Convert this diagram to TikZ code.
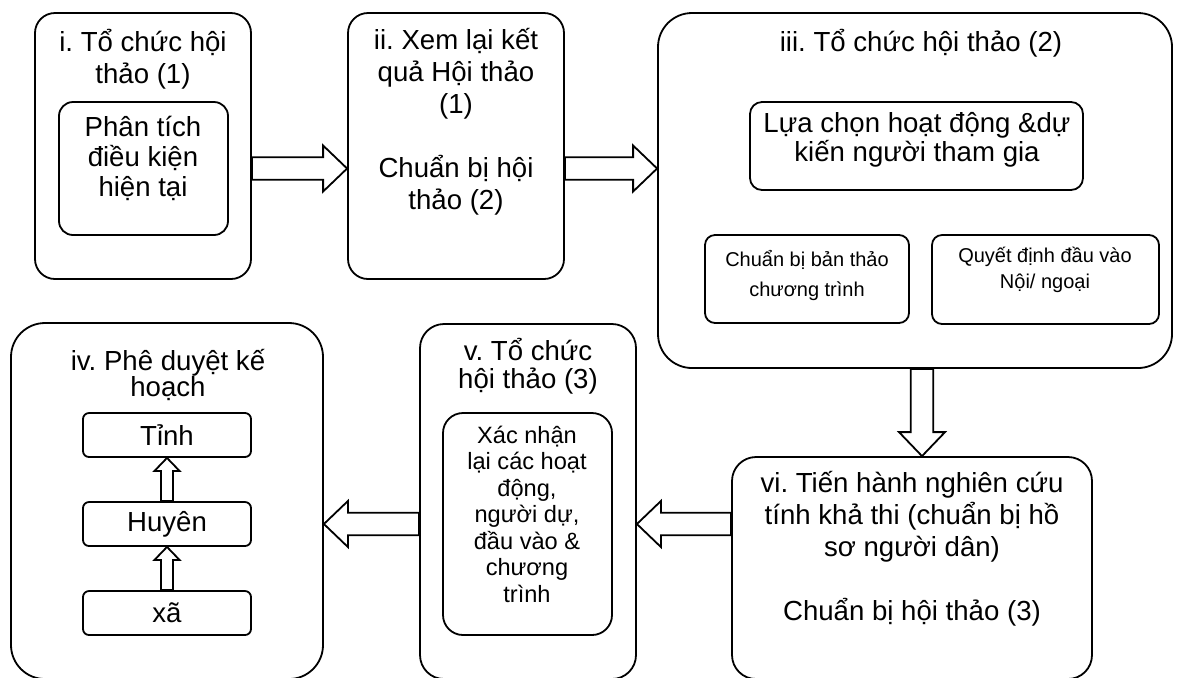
\documentclass[tikz,border=0pt]{standalone}
\usepackage{fontspec}
\setmainfont{Liberation Sans}
\usetikzlibrary{calc}
\frenchspacing

\begin{document}
\begin{tikzpicture}[x=0.5pt, y=-0.5pt,
	box/.style={draw, line width=0.9pt, rounded corners=#1, inner sep=0pt},
	box/.default=10pt,
	txt/.style={align=center, inner sep=0pt, font=\fontsize{13.8}{#1}\selectfont},
	txt/.default=16,
	stxt/.style={align=center, inner sep=0pt, font=\fontsize{10}{#1}\selectfont},
	fat/.style n args={3}{line width=0.9pt, to path={
		let \p1=($(\tikztotarget)!#3!(\tikztostart)$) in
		($(\tikztostart)!#1!90:(\tikztotarget)$)
		-- ($(\p1)!#1!90:(\tikztotarget)$)
		-- ($(\p1)!#2!90:(\tikztotarget)$)
		-- (\tikztotarget)
		-- ($(\p1)!#2!-90:(\tikztotarget)$)
		-- ($(\p1)!#1!-90:(\tikztotarget)$)
		-- ($(\tikztostart)!#1!-90:(\tikztotarget)$) -- cycle}},
	big/.style={fat={5.6pt}{11.5pt}{12pt}},
	small/.style={fat={3pt}{6.25pt}{6.5pt}}]
	\useasboundingbox (0,0) rectangle (1203,677);
	\clip (0,0) rectangle (1203,677);
	\fill[white] (0,0) rectangle (1203,677);
	% outer boxes
	\foreach \x/\y/\w/\h/\r/\nm in {
		143/146/108/133/10/i,
		456/146/108/133/10/ii,
		915/190.5/257/177.5/17/iii,
		167/501/156/178/17/iv,
		528/501.5/108/177.5/12/v,
		912/568/180/111/12/vi}{
		\node[box=\r pt, minimum width=\w pt, minimum height=\h pt] (\nm) at (\x,\y) {};
	}
	% inner boxes
	\foreach \x/\y/\w/\h/\r/\nm in {
		143.5/168.5/84.5/66.5/7/phantich,
		916.5/146/166.5/44/6/luachon,
		807/279/102/44/5/banthao,
		1045.5/279.5/113.5/44.5/5/dauvao,
		527.5/524/84.5/111/10/xacnhan}{
		\node[box=\r pt, minimum width=\w pt, minimum height=\h pt] (\nm) at (\x,\y) {};
	}
	\foreach \y/\nm/\name in {435/tinh/Tỉnh, 524/huyen/Huyên, 613/xa/xã}{
		\node[box=3pt, minimum width=84pt, minimum height=22pt, font=\fontsize{13.8}{16}\selectfont] (\nm) at (167,\y) {\name};
	}
	% texts
	\node[txt] (i-t) at (143,59) {i. Tổ chức hội\\thảo (1)};
	\node[txt=15] (phantich-t) at (143,158) {Phân tích\\điều kiện\\hiện tại};
	\node[txt] (ii-t) at (456,122) {ii. Xem lại kết\\quả Hội thảo\\(1)\\[16pt]Chuẩn bị hội\\thảo (2)};
	\node[txt] (iii-t) at (921,43) {iii. Tổ chức hội thảo (2)};
	\node[txt=14.5] (luachon-t) at (917,140) {Lựa chọn hoạt động \&dự\\kiến người tham gia};
	\node[stxt=15] (banthao-t) at (807,275) {Chuẩn bị bản thảo\\chương trình};
	\node[stxt=13] (dauvao-t) at (1045,270) {Quyết định đầu vào\\Nội/ ngoại};
	\node[txt=13] (iv-t) at (168,375) {iv. Phê duyệt kế\\hoạch};
	\node[txt=14] (v-t) at (528,366) {v. Tổ chức\\hội thảo (3)};
	\node[align=center, inner sep=0pt, font=\fontsize{11.8}{13.25}\selectfont] (xacnhan-t) at (527,514) {Xác nhận\\lại các hoạt\\động,\\người dự,\\đầu vào \&\\chương\\trình};
	\node[txt] (vi-t) at (912,549) {vi. Tiến hành nghiên cứu\\tính khả thi (chuẩn bị hồ\\sơ người dân)\\[16pt]Chuẩn bị hội thảo (3)};
	% block arrows
	\draw[big] (i.east |- phantich) to (ii.west |- phantich);
	\draw[big] (ii.east |- phantich) to (iii.west |- phantich);
	\draw[big] ([xshift=3.5pt]iii.south) to ([xshift=3.5pt]iii.south |- vi.north);
	\draw[big] (vi.west |- xacnhan) to (v.east |- xacnhan);
	\draw[big] (v.west |- xacnhan) to (iv.east |- xacnhan);
	\draw[small] (xa.north) to (huyen.south);
	\draw[small] (huyen.north) to (tinh.south);
\end{tikzpicture}
\end{document}
